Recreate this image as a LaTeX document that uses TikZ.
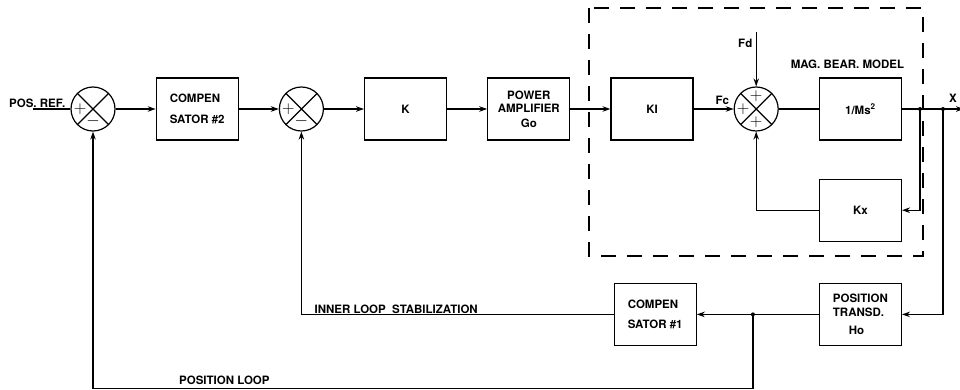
\documentclass[tikz,border=0pt]{standalone}
\usepackage{fontspec}
\setsansfont{TeX Gyre Heros}
\usetikzlibrary{positioning,calc,arrows.meta}

\begin{document}
\begin{tikzpicture}[
  x=1pt,y=-1pt,
  node distance=40pt,
  every node/.style={font=\sffamily\bfseries\fontsize{11.5}{13.5}\selectfont},
  block/.style={rectangle,draw,line width=1.2pt,minimum width=82pt,minimum height=62pt,inner sep=4pt},
  summer/.style={circle,draw,line width=1.2pt,minimum size=44pt,inner sep=0pt,
    path picture={\draw[line width=1.2pt] (path picture bounding box.north west) -- (path picture bounding box.south east)
      (path picture bounding box.north east) -- (path picture bounding box.south west);}},
  sign/.style={font=\LARGE,inner sep=0pt},
  line/.style={line width=1.2pt},
  arrow/.style={line,-{Stealth[length=8pt,width=5.5pt]}},
  dot/.style={circle,fill,inner sep=0pt,minimum size=4pt},
  lbl/.style={anchor=south west,inner sep=1pt}
]
\useasboundingbox (0,0) rectangle (960,390);

% forward path
\node[summer] (s1) at (93,109) {};
\node[block,right=of s1,align=left] (comp2) {COMPEN\\[7pt]SATOR \#2};
\node[summer,right=of comp2] (s2) {};
\node[block,right=of s2] (k) {K};
\node[block,right=of k,align=center] (amp) {POWER\\AMPLIFIER\\[1pt]Go};
\node[block,right=of amp] (ki) {KI};
\node[summer,right=of ki] (s3) {};
\node[block,right=of s3] (plant) {1/Ms\textsuperscript{2}};
\node[block,below=38pt of plant] (kx) {Kx};
\node[block,below=41pt of kx,align=left] (trans) {POSITION\\TRANSD.\\[5pt]\hspace*{16pt}Ho};
\node[block,left=122pt of trans,align=left] (comp1) {COMPEN\\[7pt]SATOR \#1};

% signs
\node[sign] (s1p) at ([xshift=-13pt]s1.center) {$+$};
\node[sign] (s1m) at ([yshift=-12pt]s1.center) {$-$};
\node[sign] (s2p) at ([xshift=-13pt]s2.center) {$+$};
\node[sign] (s2m) at ([yshift=-12pt]s2.center) {$-$};
\node[sign] (s3t) at ([yshift=13pt]s3.center) {$+$};
\node[sign] (s3l) at ([xshift=-13pt]s3.center) {$+$};
\node[sign] (s3b) at ([yshift=-13pt]s3.center) {$+$};

% magnetic bearing model
\draw[line,dash pattern=on 15pt off 11pt] (589,8) rectangle (923,256);
\node[above=5pt of plant.north,xshift=-13pt] (magbear) {MAG. BEAR. MODEL};

\coordinate (ref) at (33,109);
\coordinate (fd) at ([yshift=54pt]s3.north);
\coordinate (j1) at ([xshift=18pt]plant.east);
\coordinate (j2) at ([xshift=41pt]plant.east);
\coordinate (xout) at ([xshift=62pt]plant.east);
\coordinate (j3) at ($(comp1.east)!0.46!(trans.west)$);

\draw[line] (ref) -- (s1.west);
\draw[arrow] (s1) -- (comp2);
\draw[arrow] (comp2) -- (s2);
\draw[arrow] (s2) -- (k);
\draw[arrow] (k) -- (amp);
\draw[arrow] (amp) -- (ki);
\draw[arrow] (ki) -- node[above,pos=0.72] (fc) {Fc} (s3);
\draw[arrow] (fd) -- node[left,pos=0.2] (fdl) {Fd} (s3.north);
\draw[line] (s3) -- (plant);
\draw[arrow] (plant) -- (xout);
\draw[arrow] (j1) |- (kx.east);
\draw[arrow] (kx.west) -| (s3.south);
\draw[arrow] (j2) |- (trans.east);
\draw[arrow] (trans.west) -- (comp1.east);
\draw[arrow] (j3) -- ++(0,74) -| (s1.south);
\draw[arrow] (comp1.west) -| (s2.south);

\node[dot] (d1) at (j1) {};
\node[dot] (d2) at (j2) {};
\node[dot] (d3) at (j3) {};

% labels
\node[lbl] (posref) at (8,109) {POS. REF.};
\node (xlbl) at ([xshift=-11pt,yshift=11pt]xout) {X};
\node[lbl] (innerlbl) at ([xshift=12pt]s2.south |- comp1.west) {INNER LOOP\ \ STABILIZATION};
\node[lbl] (poslbl) at (178,386) {POSITION LOOP};
\end{tikzpicture}
\end{document}
